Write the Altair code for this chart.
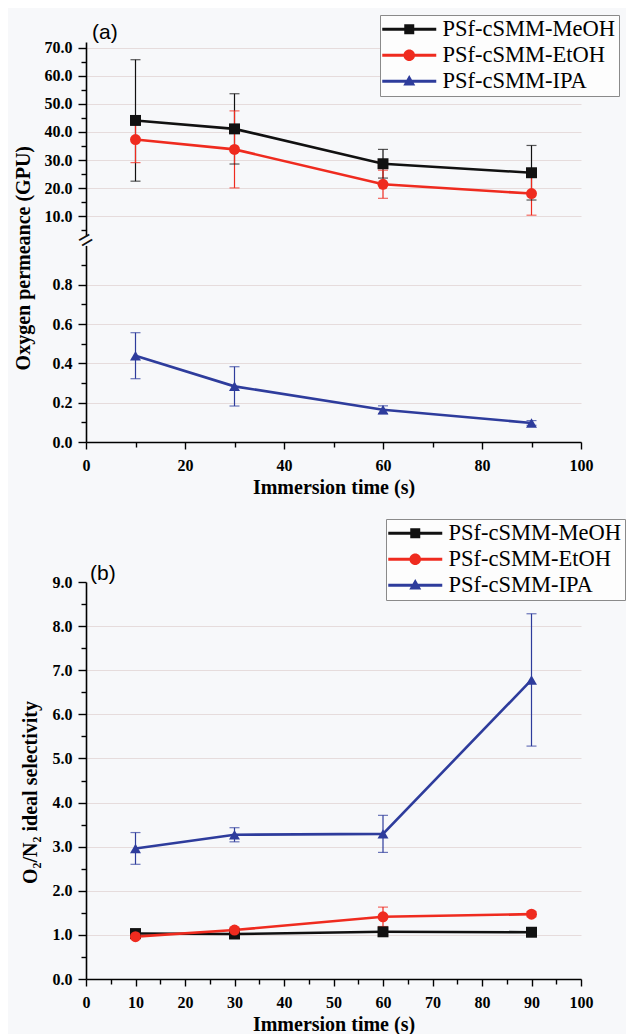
import altair as alt
import pandas as pd

# ---------------- data ----------------
times = [10, 30, 60, 90]
series_names = ["PSf-cSMM-MeOH", "PSf-cSMM-EtOH", "PSf-cSMM-IPA"]
series_colors = ["#111111", "#ef2b1f", "#2e3c9c"]
marker_shapes = ["square", "circle", "triangle-up"]

# (a) oxygen permeance (GPU) and error bar half-widths
perm_meoh = [44.1, 41.1, 28.7, 25.5]
perm_meoh_err = [21.6, 12.5, 5.1, 9.7]
perm_etoh = [37.3, 33.8, 21.4, 18.1]
perm_etoh_err = [8.2, 13.7, 5.0, 7.7]
perm_ipa = [0.439, 0.283, 0.164, 0.097]
perm_ipa_err = [0.117, 0.100, 0.020, 0.012]

# (b) O2/N2 ideal selectivity and error bar half-widths
sel_meoh = [1.03, 1.02, 1.07, 1.06]
sel_meoh_err = [0.04, 0.03, 0.04, 0.03]
sel_etoh = [0.96, 1.11, 1.41, 1.47]
sel_etoh_err = [0.05, 0.06, 0.22, 0.06]
sel_ipa = [2.96, 3.27, 3.29, 6.78]
sel_ipa_err = [0.36, 0.16, 0.42, 1.50]

panel_labels = ["(a)", "(b)"]

# tick values
x_major_a = [0, 20, 40, 60, 80, 100]
x_minor_a = [10, 30, 50, 70, 90]
x_major_b = [0, 10, 20, 30, 40, 50, 60, 70, 80, 90, 100]
x_minor_b = [5, 15, 25, 35, 45, 55, 65, 75, 85, 95]
y_up_major = [10, 20, 30, 40, 50, 60, 70]
y_up_minor = [5, 15, 25, 35, 45, 55, 65]
y_lo_major = [0.0, 0.2, 0.4, 0.6, 0.8]
y_lo_minor = [0.1, 0.3, 0.5, 0.7, 0.9]
y_b_major = [0, 1, 2, 3, 4, 5, 6, 7, 8, 9]
y_b_minor = [0.5, 1.5, 2.5, 3.5, 4.5, 5.5, 6.5, 7.5, 8.5]

# legend symbols: line with marker (custom symbol paths)
legend_paths = [
    "M-2.7,-0.15H-0.5V-0.5H0.5V-0.15H2.7V0.15H0.5V0.5H-0.5V0.15H-2.7Z",
    "M-2.7,-0.15H2.7V0.15H-2.7Z M-0.58,0A0.58,0.58 0 1,1 0.58,0A0.58,0.58 0 1,1 -0.58,0Z",
    "M-2.7,-0.15H2.7V0.15H-2.7Z M0,-0.62L0.6,0.42L-0.6,0.42Z",
]


def frame(names, vals, errs):
    rows = []
    for n, v, e in zip(names, vals, errs):
        for t, vv, ee in zip(times, v, e):
            rows.append(dict(time=t, series=n, value=vv, lo=vv - ee, hi=vv + ee))
    return pd.DataFrame(rows)


df_up = frame(series_names[:2], [perm_meoh, perm_etoh], [perm_meoh_err, perm_etoh_err])
df_lo = frame(series_names[2:], [perm_ipa], [perm_ipa_err])
df_b = frame(series_names, [sel_meoh, sel_etoh, sel_ipa],
             [sel_meoh_err, sel_etoh_err, sel_ipa_err])

W = 495
HA = 400
HB = 397

X_SCALE = alt.Scale(domain=[0, 100], nice=False)
Y_UP = alt.Scale(domain=[3, 72], range=[194, 0], nice=False, zero=False)
Y_LO = alt.Scale(domain=[0, 1], range=[400, 203.4], nice=False)
Y_B = alt.Scale(domain=[0, 9], nice=False)
COLOR_SCALE = alt.Scale(domain=series_names, range=series_colors)
SHAPE_SCALE = alt.Scale(domain=series_names, range=marker_shapes)
LEG_SHAPE_SCALE = alt.Scale(domain=series_names, range=legend_paths)

GRID = "#e6dcdc"


def major_y(values, title=None, top_value=None, **kw):
    extra = {}
    if top_value is not None:
        extra["gridOpacity"] = {"condition": {"test": f"datum.value >= {top_value}", "value": 0},
                                "value": 1}
    return alt.Axis(values=values, orient="left", format=".1f", tickSize=8,
                    labelPadding=6, grid=True, gridColor=GRID, title=title, **extra, **kw)


def minor_y(values):
    return alt.Axis(values=values, orient="left", tickSize=5, labels=False,
                    domain=False, grid=False, title=None)


def major_x(values):
    return alt.Axis(values=values, orient="bottom", format="d", tickSize=7,
                    labelPadding=8, grid=False, title="Immersion time (s)",
                    titlePadding=4)


def minor_x(values):
    return alt.Axis(values=values, orient="bottom", tickSize=5, labels=False,
                    domain=False, grid=False, title=None)


def seg_layers(df, yscale, y_major_axis, y_minor_axis, x_major_axis=None, x_minor_axis=None):
    base = alt.Chart(df)
    xnone = alt.X("time:Q", scale=X_SCALE, axis=None)
    color = alt.Color("series:N", scale=COLOR_SCALE, legend=None)
    rules = base.mark_rule(strokeWidth=1.2).encode(
        x=alt.X("time:Q", scale=X_SCALE, axis=x_major_axis) if x_major_axis is not None else xnone,
        y=alt.Y("lo:Q", scale=yscale, axis=y_major_axis),
        y2="hi:Q",
        color=color,
    )
    caps_lo = base.mark_tick(orient="horizontal", size=10, thickness=1.2).encode(
        x=alt.X("time:Q", scale=X_SCALE, axis=x_minor_axis) if x_minor_axis is not None else xnone,
        y=alt.Y("lo:Q", scale=yscale, axis=y_minor_axis),
        color=color,
    )
    caps_hi = base.mark_tick(orient="horizontal", size=10, thickness=1.2).encode(
        x=xnone, y=alt.Y("hi:Q", scale=yscale, axis=None), color=color
    )
    line = base.mark_line(strokeWidth=2.6).encode(
        x=xnone, y=alt.Y("value:Q", scale=yscale, axis=None), color=color
    )
    pts = base.mark_point(filled=True, size=120, opacity=1, strokeWidth=0).encode(
        x=xnone,
        y=alt.Y("value:Q", scale=yscale, axis=None),
        color=color,
        shape=alt.Shape("series:N", scale=SHAPE_SCALE, legend=None),
    )
    return [rules, caps_lo, caps_hi, line, pts]


def legend_layer(df, yscale, lx, ly):
    leg = alt.Legend(orient="none", legendX=lx, legendY=ly, title=None, symbolOpacity=1)
    return alt.Chart(df).mark_point(filled=True, opacity=0, size=400).encode(
        x=alt.X("time:Q", scale=X_SCALE, axis=None),
        y=alt.Y("value:Q", scale=yscale, axis=None),
        color=alt.Color("series:N", scale=COLOR_SCALE, legend=leg),
        shape=alt.Shape("series:N", scale=LEG_SHAPE_SCALE, legend=leg),
    )


def panel_label(text, dx, dy):
    return alt.Chart(pd.DataFrame({"label": [text]})).mark_text(
        font="Liberation Sans", fontSize=21, color="black", align="left", baseline="bottom"
    ).encode(x=alt.value(dx), y=alt.value(dy), text="label:N")


# ---------- panel (a) ----------
up_layers = seg_layers(
    df_up, Y_UP,
    major_y(y_up_major, title="Oxygen permeance (GPU)", titleX=-53, titleY=215.7),
    minor_y(y_up_minor),
)
lo_layers = seg_layers(
    df_lo, Y_LO,
    major_y(y_lo_major),
    minor_y(y_lo_minor),
    x_major_axis=major_x(x_major_a),
    x_minor_axis=minor_x(x_minor_a),
)
break_mark = alt.Chart(pd.DataFrame({"k": [0]})).mark_text(
    text="=", angle=330, fontSize=24, font="Liberation Sans", color="#111111",
    align="center", baseline="middle"
).encode(x=alt.value(0), y=alt.value(198.7))

panel_a = alt.layer(
    *up_layers, *lo_layers, legend_layer(df_up, Y_UP, 294, -27), break_mark,
    panel_label(panel_labels[0], 6, 1)
).resolve_scale(
    y="independent", color="independent", shape="independent"
).resolve_axis(
    x="independent", y="independent"
).properties(width=W, height=HA)

# ---------- panel (b) ----------
b_layers = seg_layers(
    df_b, Y_B,
    major_y(y_b_major, title="O₂/N₂ ideal selectivity", top_value=9, titleX=-46, titleY=210),
    minor_y(y_b_minor),
    x_major_axis=major_x(x_major_b),
    x_minor_axis=minor_x(x_minor_b),
)
panel_b = alt.layer(
    *b_layers, legend_layer(df_b, Y_B, 300, -63), panel_label(panel_labels[1], 4, 2)
).resolve_scale(
    y="independent", color="independent", shape="independent"
).resolve_axis(
    x="independent", y="independent"
).properties(width=W, height=HB)

chart = alt.vconcat(panel_a, panel_b, spacing=140, bounds="flush").properties(
    padding={"left": 5, "top": 6, "right": 0, "bottom": 0},
    background="#f7f8fa",
).configure_view(
    strokeWidth=0
).configure_axis(
    labelFont="Liberation Serif", labelFontSize=16, labelFontWeight="bold",
    labelColor="black", labelFlush=False, labelOverlap=False,
    titleFont="Liberation Serif", titleFontSize=20, titleFontWeight="bold",
    titleColor="black", domainColor="black", domainWidth=1.6,
    tickColor="black", tickWidth=1.4, gridWidth=1,
).configure_legend(
    labelFont="Liberation Serif", labelFontSize=22.5, labelColor="black",
    symbolSize=400, symbolStrokeWidth=0, symbolOffset=15, labelOffset=22,
    padding=3, rowPadding=3, strokeColor="#8a8a8a", fillColor="#fdfdfd",
    labelLimit=400,
)

chart.save("out.html", embed_options={"renderer": "svg", "actions": False})
